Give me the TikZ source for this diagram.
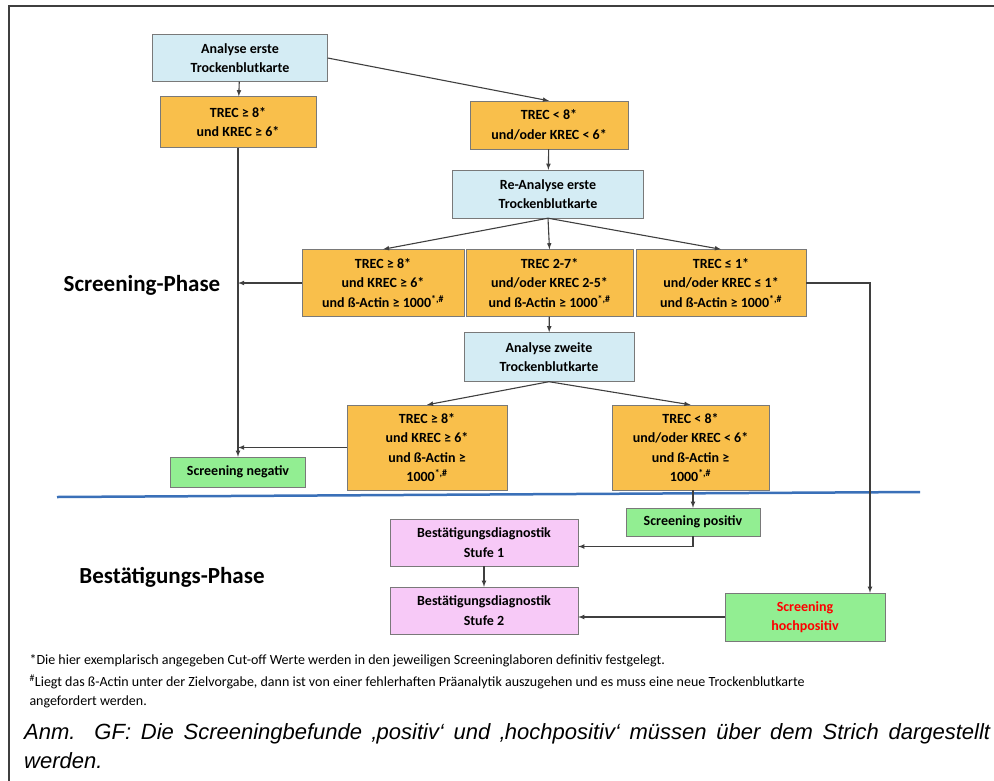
\documentclass[tikz,border=0pt]{standalone}
\usepackage{fontspec}
\setmainfont{Carlito}
\newfontfamily\annfont{Liberation Sans}
\usetikzlibrary{arrows,calc}
\definecolor{boxblue}{HTML}{D4ECF4}
\definecolor{boxorange}{HTML}{F9BF4B}
\definecolor{boxgreen}{HTML}{92EE92}
\definecolor{boxpink}{HTML}{F7C9F7}
\definecolor{linegray}{HTML}{3F3F3F}
\definecolor{phaseblue}{HTML}{3A70B8}
\tikzset{>=latex,
	flowbox/.style={draw=linegray!70, align=center, inner sep=2pt,
			font=\fontsize{14}{19.5}\selectfont\bfseries},
	bluebox/.style={flowbox, fill=boxblue},
	orangebox/.style={flowbox, fill=boxorange},
	greenbox/.style={flowbox, fill=boxgreen},
	pinkbox/.style={flowbox, fill=boxpink},
	link/.style={linegray, line width=1.1pt, ->},
	phase/.style={font=\fontsize{23}{27}\selectfont\bfseries},
	footnote/.style={anchor=west, font=\fontsize{14}{18}\selectfont},
	annot/.style={anchor=north west, text width=966pt, align=justify, inner sep=0pt,
			font=\fontsize{22}{29}\annfont\itshape}
}
\newcommand{\fn}[1]{\textsuperscript{#1}}

\begin{document}
\begin{tikzpicture}[x=1pt, y=-1pt]
		\useasboundingbox (0,0) rectangle (994,780);
		\draw[line width=2pt, linegray] (9,800) -- (9,6) -- (1000,6);

		% screening phase
		\node[bluebox, minimum width=175, minimum height=47] (ae) at (240,58) {Analyse erste\\Trockenblutkarte};
		\node[orangebox, minimum width=156, minimum height=51] (t1) at (238,122) {TREC ≥ 8*\\und KREC ≥ 6*};
		\node[orangebox, minimum width=158, minimum height=48] (t2) at (549,125) {TREC < 8*\\und/oder KREC < 6*};
		\node[bluebox, minimum width=191, minimum height=48] (ra) at (548,194) {Re-Analyse erste\\Trockenblutkarte};
		\node[orangebox, minimum width=162, minimum height=67] (r3a) at (383,283) {TREC ≥ 8*\\und KREC ≥ 6*\\und ß-Actin ≥ 1000\fn{*,\#}};
		\node[orangebox, minimum width=167, minimum height=67] (r3b) at (549.5,283) {TREC 2-7*\\und/oder KREC 2-5*\\und ß-Actin ≥ 1000\fn{*,\#}};
		\node[orangebox, minimum width=170, minimum height=67] (r3c) at (721,283) {TREC ≤ 1*\\und/oder KREC ≤ 1*\\und ß-Actin ≥ 1000\fn{*,\#}};
		\node[bluebox, minimum width=170, minimum height=49] (az) at (549,357) {Analyse zweite\\Trockenblutkarte};
		\node[orangebox, minimum width=160, minimum height=85] (r5a) at (427,447.5) {TREC ≥ 8*\\und KREC ≥ 6*\\und ß-Actin ≥\\1000\fn{*,\#}};
		\node[orangebox, minimum width=157, minimum height=85] (r5b) at (690.5,447.5) {TREC < 8*\\und/oder KREC < 6*\\und ß-Actin ≥\\1000\fn{*,\#}};
		\node[greenbox, minimum width=135, minimum height=30] (neg) at (238,472) {Screening negativ};
		\node[phase] (sp) at (142,285) {Screening-Phase};

		% phase line
		\draw[phaseblue, line width=2.5pt] (57,497) -- (920,492);

		% confirmation phase
		\node[greenbox, minimum width=134, minimum height=28] (pos) at (693,522) {Screening positiv};
		\node[pinkbox, minimum width=188, minimum height=47] (s1) at (484,542.5) {Bestätigungsdiagnostik\\Stufe 1};
		\node[pinkbox, minimum width=188, minimum height=47] (s2) at (484,610.5) {Bestätigungsdiagnostik\\Stufe 2};
		\node[greenbox, minimum width=160, minimum height=48, text=red] (hoch) at (805,617) {Screening\\hochpositiv};
		\node[phase] (bp) at (172,577) {Bestätigungs-Phase};
		\coordinate (hx) at (870,0);

		% connectors
		\draw[link] (ae) -- (t1);
		\draw[link] (ae.east) -- (t2.north);
		\draw[link] (t2) -- (ra);
		\draw[link] (ra.south) -- (r3a.north);
		\draw[link] (ra.south) -- (r3b.north);
		\draw[link] (ra.south) -- (r3c.north);
		\draw[link] (t1) -- (neg);
		\draw[link] (r3a.west) -- (r3a.west -| neg.north);
		\draw[link] (r3b) -- (az);
		\draw[link] (az.south) -- (r5a.north);
		\draw[link] (az.south) -- (r5b.north);
		\draw[link] (r5a.west) -- (r5a.west -| neg.north);
		\draw[link] (r5b.south -| pos.north) -- (pos.north);
		\draw[link] (pos.south) |- ($(s1.east)+(0,4)$);
		\draw[link] (s1) -- (s2);
		\draw[link] (r3c.east) -| (hx |- hoch.north);
		\draw[link] (hoch.west) -- (hoch.west -| s2.east);

		% notes
		\node[footnote] (n1) at (26,661) {*Die hier exemplarisch angegeben Cut-off Werte werden in den jeweiligen Screeninglaboren definitiv festgelegt.};
		\node[footnote] (n2) at (26,682) {\fn{\#}Liegt das ß-Actin unter der Zielvorgabe, dann ist von einer fehlerhaften Präanalytik auszugehen und es muss eine neue Trockenblutkarte};
		\node[footnote] (n3) at (26,702) {angefordert werden.};
		\node[annot] (a1) at (24,723) {Anm. GF: Die Screeningbefunde ‚positiv‘ und ‚hochpositiv‘ müssen über dem Strich dargestellt \mbox{werden.}};
	\end{tikzpicture}
\end{document}
